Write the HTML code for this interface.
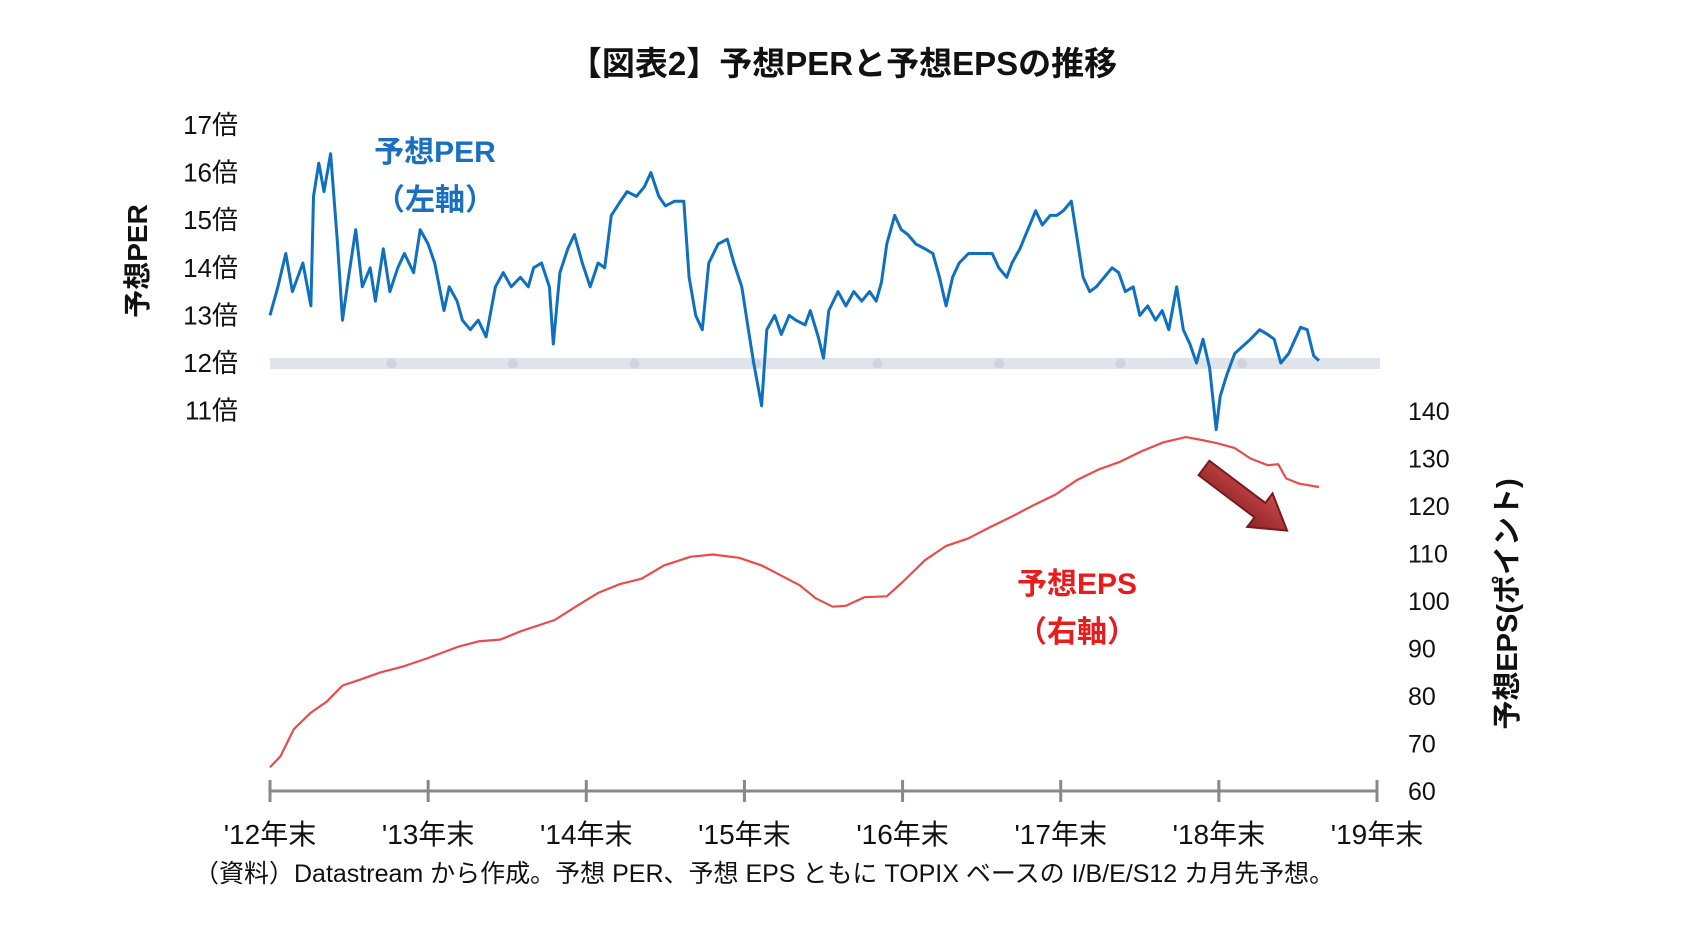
<!DOCTYPE html>
<html lang="ja"><head><meta charset="utf-8"><style>
html,body{margin:0;padding:0;background:#fff;}
svg{display:block;font-family:"Liberation Sans","Noto Sans CJK JP",sans-serif;}
</style></head><body>
<svg id="chart" width="1697" height="933" viewBox="0 0 1697 933" xmlns="http://www.w3.org/2000/svg">
<defs>
<linearGradient id="ag" x1="0" y1="0" x2="0" y2="1"><stop offset="0" stop-color="#c8494b"/><stop offset="1" stop-color="#8e2224"/></linearGradient>
</defs>
<text x="843" y="75" text-anchor="middle" font-size="33" font-weight="bold" fill="#111">【図表2】予想PERと予想EPSの推移</text>
<rect x="270" y="358" width="1110" height="11" fill="#dfe3ec"/>
<g id="bandDots"></g>
<g id="leftTicks"></g>
<g id="rightTicks"></g>
<g id="xAxis"></g>
<text transform="translate(147,261) rotate(-90)" text-anchor="middle" font-size="28" font-weight="bold" fill="#111">予想PER</text>
<text transform="translate(1517,604) rotate(-90)" text-anchor="middle" font-size="29" font-weight="bold" fill="#111">予想EPS(ポイント)</text>
<path id="perLine" fill="none" stroke="#1070c0" stroke-width="3" stroke-linejoin="round"/>
<path id="epsLine" fill="none" stroke="#e84c4c" stroke-width="2.2" stroke-linejoin="round"/>
<text x="435" y="162" text-anchor="middle" font-size="30" font-weight="bold" fill="#1a6fbf">予想PER</text>
<text x="435" y="210" text-anchor="middle" font-size="30" font-weight="bold" fill="#1a6fbf">（左軸）</text>
<text x="1077" y="594" text-anchor="middle" font-size="30" font-weight="bold" fill="#e81c1c">予想EPS</text>
<text x="1077" y="642" text-anchor="middle" font-size="30" font-weight="bold" fill="#e81c1c">（右軸）</text>
<g transform="translate(1204,468) rotate(37)">
<polygon points="0,-9 70,-9 70,-21 104,0 70,21 70,9 0,9" fill="url(#ag)" stroke="#7a1a1c" stroke-width="2"/>
</g>
<text x="194" y="882" font-size="25" fill="#111">（資料）Datastream から作成。予想 PER、予想 EPS ともに TOPIX ベースの I/B/E/S12 カ月先予想。</text>
</svg>
<script>
const perMonths=[0,0.6,1.2,1.7,2.5,3.1,3.3,3.7,4.1,4.6,5.1,5.5,5.9,6.5,7.0,7.6,8.0,8.6,9.1,9.7,10.2,10.9,11.4,12.0,12.5,13.2,13.6,14.2,14.6,15.2,15.8,16.4,17.1,17.7,18.3,19.0,19.6,20.0,20.6,21.2,21.5,22.0,22.6,23.1,23.7,24.3,24.9,25.4,25.9,26.6,27.1,27.8,28.4,28.9,29.5,30.0,30.7,31.4,31.8,32.3,32.8,33.3,34.0,34.7,35.2,35.8,36.3,36.7,37.3,37.7,38.3,38.8,39.4,39.9,40.6,41.0,41.6,42.0,42.4,43.1,43.7,44.3,44.9,45.5,46.0,46.4,46.8,47.4,47.9,48.4,49.0,49.7,50.3,50.8,51.3,51.8,52.3,53.0,53.6,54.2,54.8,55.3,55.9,56.3,56.9,57.5,58.1,58.6,59.2,59.7,60.2,60.8,61.2,61.7,62.2,62.7,63.3,63.9,64.4,64.9,65.5,66.0,66.6,67.2,67.7,68.2,68.8,69.3,69.8,70.3,70.8,71.3,71.8,72.1,72.6,73.2,73.8,74.4,75.1,75.7,76.2,76.7,77.3,77.7,78.2,78.7,79.2,79.6];
const perValues=[13.0,13.6,14.3,13.5,14.1,13.2,15.5,16.2,15.6,16.4,14.6,12.9,13.7,14.8,13.6,14.0,13.3,14.4,13.5,14.0,14.3,13.9,14.8,14.5,14.1,13.1,13.6,13.3,12.9,12.7,12.9,12.55,13.6,13.9,13.6,13.8,13.6,14.0,14.1,13.6,12.4,13.9,14.4,14.7,14.1,13.6,14.1,14.0,15.1,15.4,15.6,15.5,15.7,16.0,15.5,15.3,15.4,15.4,13.8,13.0,12.7,14.1,14.5,14.6,14.1,13.6,12.7,12.0,11.1,12.7,13.0,12.6,13.0,12.9,12.8,13.1,12.55,12.1,13.1,13.5,13.2,13.5,13.3,13.5,13.3,13.7,14.5,15.1,14.8,14.7,14.5,14.4,14.3,13.8,13.2,13.8,14.1,14.3,14.3,14.3,14.3,14.0,13.8,14.1,14.4,14.8,15.2,14.9,15.1,15.1,15.2,15.4,14.7,13.8,13.5,13.6,13.8,14.0,13.9,13.5,13.6,13.0,13.2,12.9,13.1,12.7,13.6,12.7,12.4,12.0,12.5,11.9,10.6,11.3,11.75,12.2,12.35,12.5,12.7,12.6,12.5,12.0,12.2,12.45,12.75,12.7,12.15,12.05];
const epsMonths=[0,0.8,1.2,1.8,3.1,4.3,5.5,6.8,8.4,10.1,12.0,14.2,15.8,17.5,19.1,21.6,23.3,24.9,26.6,28.2,29.9,31.9,33.6,35.6,37.3,38.9,40.2,41.4,42.7,43.7,45.1,46.8,48.0,49.7,51.3,53.0,54.6,56.3,57.9,59.6,61.2,62.9,64.5,66.2,67.8,69.5,70.7,71.9,73.2,74.4,75.7,76.5,77.1,78.1,79.6];
const epsValues=[65,67.3,69.6,73,76.5,78.8,82.2,83.4,85,86.2,88,90.3,91.5,91.9,93.7,96,99,101.7,103.6,104.7,107.5,109.3,109.8,109.1,107.5,105.2,103.3,100.6,98.8,99,100.8,101,104,108.6,111.6,113.2,115.5,117.8,120.1,122.4,125.4,127.7,129.3,131.6,133.4,134.5,133.9,133.2,132.2,130,128.6,128.8,125.8,124.7,124];
const perTicks=[17,16,15,14,13,12,11];
const epsTicks=[140,130,120,110,100,90,80,70,60];
const xLabels=["'12年末","'13年末","'14年末","'15年末","'16年末","'17年末","'18年末","'19年末"];

const NS="http://www.w3.org/2000/svg";
const X0=270,X1=1377,MONTHS=84;
const xm=m=>X0+m*(X1-X0)/MONTHS;
const yPer=v=>125+(17-v)*47.6;
const yEps=v=>791-(v-60)*4.75;
function mk(tag,attrs,parent,txt){const e=document.createElementNS(NS,tag);for(const k in attrs)e.setAttribute(k,attrs[k]);if(txt!==undefined)e.textContent=txt;parent.appendChild(e);return e;}

const lt=document.getElementById('leftTicks');
perTicks.forEach(v=>{const t=mk('text',{x:238,y:yPer(v)+9,'text-anchor':'end','font-size':26,fill:'#111'},lt,v+'倍');

});
const rt=document.getElementById('rightTicks');
epsTicks.forEach(v=>{const t=mk('text',{x:1408,y:yEps(v)+9,'font-size':25,fill:'#111'},rt,String(v));

});
const bd=document.getElementById('bandDots');
for(let i=1;i<=8;i++){const c=mk('circle',{cx:X0+i*121.5,cy:363.5,r:5,fill:'#cfd3dd'},bd);

}
const xa=document.getElementById('xAxis');
const al=mk('line',{x1:X0,y1:791,x2:X1,y2:791,stroke:'#888','stroke-width':3},xa);


xLabels.forEach((s,i)=>{const x=xm(i*12);
const tk=mk('line',{x1:x,y1:780,x2:x,y2:802,stroke:'#888','stroke-width':3},xa);


const t=mk('text',{x:x,y:844,'text-anchor':'middle','font-size':28,fill:'#111'},xa,s);

});
document.getElementById('perLine').setAttribute('d',perMonths.map((m,i)=>(i?'L':'M')+xm(m).toFixed(1)+','+yPer(perValues[i]).toFixed(1)).join(''));
document.getElementById('epsLine').setAttribute('d',epsMonths.map((m,i)=>(i?'L':'M')+xm(m).toFixed(1)+','+yEps(epsValues[i]).toFixed(1)).join(''));
</script>
</body></html>
